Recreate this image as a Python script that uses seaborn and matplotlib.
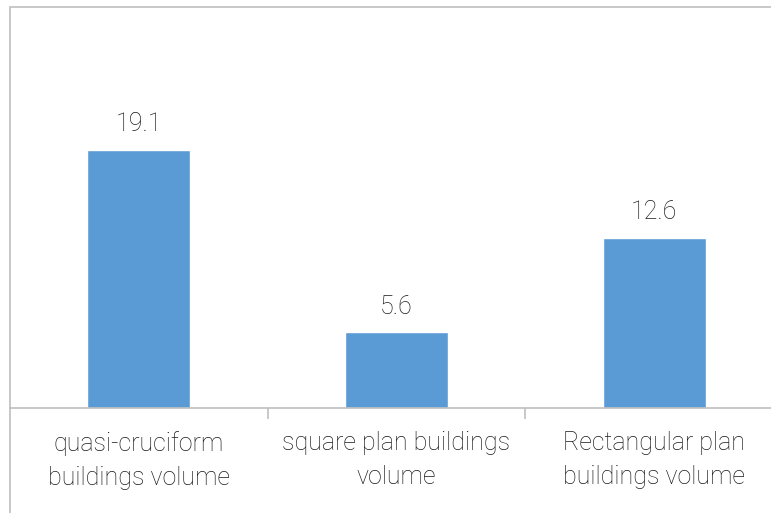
import matplotlib
matplotlib.use("Agg")
import matplotlib.pyplot as plt
import seaborn as sns
from matplotlib.patches import Rectangle

categories = ["quasi-cruciform\nbuildings volume",
              "square plan buildings\nvolume",
              "Rectangular plan\nbuildings volume"]
values = [19.1, 5.6, 12.6]

sns.set_theme(style="white")
plt.rcParams['font.family'] = ['Roboto', 'DejaVu Sans']
plt.rcParams['font.weight'] = 'light'

fig = plt.figure(figsize=(7.71, 5.13), dpi=100)
ax = fig.add_axes([10 / 771, 1 - 408 / 513, 773 / 771, 401 / 513])

sns.barplot(x=categories, y=values, color="#5B9BD5", width=0.4,
            saturation=1, ax=ax)

for c in ax.containers:
    ax.bar_label(c, labels=[f"{v:.1f}" for v in values], padding=10,
                 fontsize=18, color="#1a1a1a", fontweight="light")

ax.set_ylim(0, 401 / 13.5)
ax.set_xlim(-0.5, 2.5)
ax.set_yticks([])
for s in ["top", "right", "left"]:
    ax.spines[s].set_visible(False)
ax.spines["bottom"].set_color("#BFBFBF")
ax.spines["bottom"].set_linewidth(1.2)

ax.set_xticks([0.5, 1.5], minor=True)
ax.tick_params(axis="x", which="minor", length=8, color="#BFBFBF",
               width=1.2, direction="out", bottom=True)
ax.tick_params(axis="x", which="major", length=0, pad=16.5,
               labelsize=18, labelcolor="#1a1a1a")
for t in ax.get_xticklabels():
    t.set_linespacing(1.55)
    t.set_fontweight("light")

# chart area border
fig.patches.append(Rectangle((10 / 771, -0.1), 1.2, 0.1 + (513 - 7) / 513,
                             transform=fig.transFigure, fill=False,
                             edgecolor="#BFBFBF", linewidth=1.2, zorder=0))

fig.savefig("out.png", dpi=100)
